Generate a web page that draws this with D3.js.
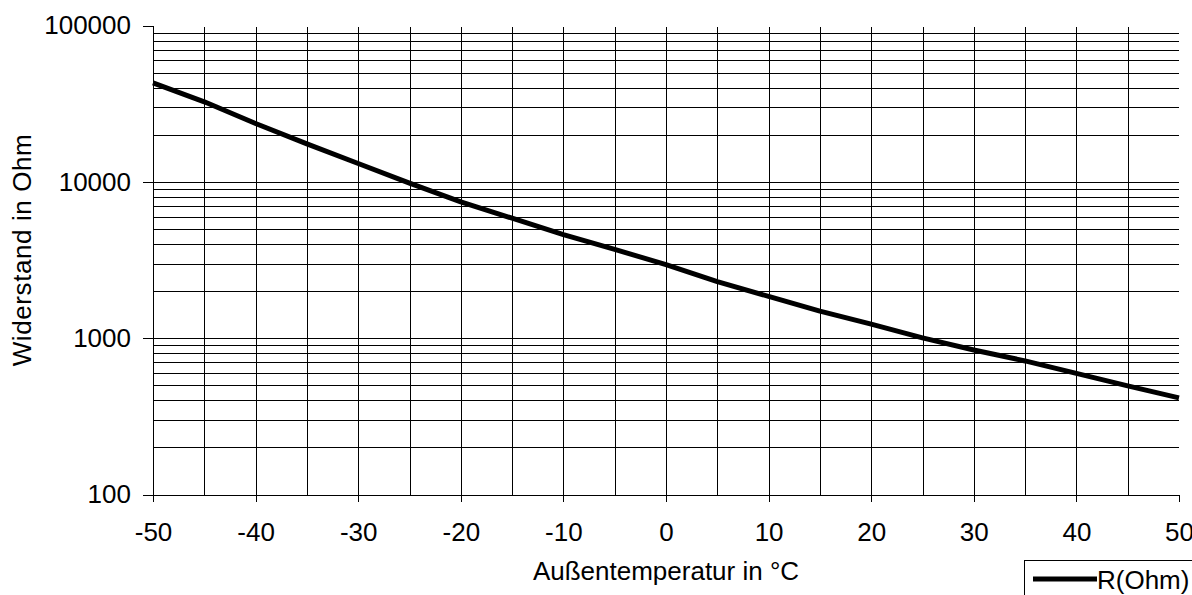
<!DOCTYPE html>
<html>
<head>
<meta charset="utf-8">
<script src="https://cdn.jsdelivr.net/npm/d3@7"></script>
<style>
  html, body { margin: 0; padding: 0; background: #fff; }
  svg { display: block; }
  text { font-family: "Liberation Sans", Arial, sans-serif; fill: #000; }
</style>
</head>
<body>
<svg id="chart" width="1192" height="595"></svg>
<script>
// ---- data ----
const temperatures = [-50, -45, -40, -35, -30, -25, -20, -15, -10, -5, 0, 5, 10, 15, 20, 25, 30, 35, 40, 45, 50];
const resistance   = [43000, 32500, 23600, 17500, 13100, 9800, 7450, 5850, 4600, 3700, 2950, 2300, 1850, 1490, 1230, 1005, 840, 715, 595, 495, 415];
const xTicks = [-50, -40, -30, -20, -10, 0, 10, 20, 30, 40, 50];
const xGrid = [-45, -40, -35, -30, -25, -20, -15, -10, -5, 0, 5, 10, 15, 20, 25, 30, 35, 40, 45];
const yTicks = [100, 1000, 10000, 100000];
const yTickLabels = ["100", "1000", "10000", "100000"];
const seriesName = "R(Ohm)";
const xTitle = "Außentemperatur in °C";
const yTitle = "Widerstand in Ohm";

(function () {
// ---- layout ----
const svg = d3.select("#chart");
const pLeft = 153, pRight = 1179, pTop = 25.5, pBottom = 494.5;

const x = d3.scaleLinear().domain([-50, 50]).range([pLeft, pRight]);
const y = d3.scaleLog().domain([100, 100000]).range([pBottom, pTop]);

// minor + major horizontal grid values (excluding the top edge and bottom axis)
const yGrid = [];
for (let d = 100; d < 100000; d *= 10) {
  for (let m = 1; m <= 9; m++) {
    const v = d * m;
    if (v > 100) yGrid.push(v);
  }
}

const crisp = v => Math.round(v) + 0.5;

const grid = svg.append("g").attr("stroke", "#000").attr("stroke-width", 1).attr("shape-rendering", "crispEdges");
grid.selectAll("line.h").data(yGrid).join("line")
  .attr("class", "h")
  .attr("x1", pLeft).attr("x2", pRight)
  .attr("y1", d => crisp(y(d))).attr("y2", d => crisp(y(d)));
grid.selectAll("line.v").data(xGrid).join("line")
  .attr("class", "v")
  .attr("x1", d => crisp(x(d))).attr("x2", d => crisp(x(d)))
  .attr("y1", pTop + 1.5).attr("y2", pBottom);

// axes
const yAxis = d3.axisLeft(y).tickValues(yTicks).tickFormat((d, i) => yTickLabels[i]).tickSize(10).tickPadding(12);
const gy = svg.append("g").attr("transform", `translate(${pLeft},0)`).call(yAxis);
gy.select(".domain").attr("d", `M0.5,${pTop}V${pBottom}`).attr("stroke", "#000").attr("shape-rendering", "crispEdges");
gy.selectAll(".tick line").attr("stroke", "#000").attr("shape-rendering", "crispEdges");
gy.selectAll(".tick text").attr("font-size", 26).attr("font-family", "Liberation Sans, Arial, sans-serif").attr("dy", "0.32em");

const xAxis = d3.axisBottom(x).tickValues(xTicks).tickFormat(d3.format("d")).tickSize(7).tickPadding(21);
const gx = svg.append("g").attr("transform", `translate(0,${pBottom})`).call(xAxis);
gx.select(".domain").attr("d", `M${pLeft},0.5H${pRight}`).attr("stroke", "#000").attr("shape-rendering", "crispEdges");
gx.selectAll(".tick line").attr("stroke", "#000").attr("shape-rendering", "crispEdges");
gx.selectAll(".tick text").attr("font-size", 26).attr("font-family", "Liberation Sans, Arial, sans-serif").attr("dy", "0.71em")
  .text(d => d < 0 ? "-" + Math.abs(d) : String(d));

// series line
const line = d3.line().x((d, i) => x(temperatures[i])).y(d => y(d));
svg.append("path")
  .datum(resistance)
  .attr("fill", "none")
  .attr("stroke", "#000")
  .attr("stroke-width", 5)
  .attr("stroke-linejoin", "round")
  .attr("d", line);

// titles
svg.append("text")
  .attr("x", (pLeft + pRight) / 2).attr("y", 580)
  .attr("text-anchor", "middle").attr("font-size", 26)
  .text(xTitle);
svg.append("text")
  .attr("transform", `translate(31,250) rotate(-90)`)
  .attr("text-anchor", "middle").attr("font-size", 26)
  .attr("letter-spacing", 0.6)
  .text(yTitle);

// legend
const lg = svg.append("g");
lg.append("rect").attr("x", 1024.5).attr("y", 560.5).attr("width", 200).attr("height", 60)
  .attr("fill", "#fff").attr("stroke", "#000").attr("stroke-width", 1);
lg.append("line").attr("x1", 1033).attr("x2", 1097).attr("y1", 579).attr("y2", 579)
  .attr("stroke", "#000").attr("stroke-width", 5);
lg.append("text").attr("x", 1097).attr("y", 589).attr("font-size", 26).text(seriesName);
})();
</script>
</body>
</html>
